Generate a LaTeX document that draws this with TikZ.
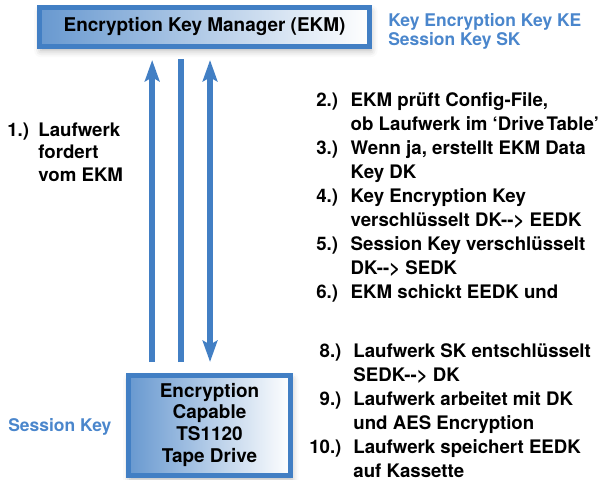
\documentclass[tikz,border=0pt]{standalone}
\usepackage{fontspec}
\setmainfont{TeX Gyre Heros}
\usetikzlibrary{arrows.meta,shadows.blur}
\definecolor{ekmblue}{RGB}{66,127,196}
\definecolor{keyblue}{RGB}{74,134,204}
\begin{document}
\begin{tikzpicture}[x=0.75pt, y=-0.75pt,
  every node/.style={inner sep=0pt, font=\bfseries},
  box/.style={draw=ekmblue, line width=3.75pt, left color=ekmblue!80, middle color=ekmblue!18, right color=white,
    blur shadow={shadow xshift=1pt, shadow yshift=-3pt, shadow blur radius=5pt, shadow opacity=30}},
  bluetext/.style={text=keyblue, font=\fontsize{13.1}{14.25}\selectfont\bfseries},
  steptext/.style={font=\fontsize{14}{18}\selectfont\bfseries},
  flow/.style={draw=ekmblue, line width=4.5pt},
  >={Stealth[length=16pt, width=11pt, inset=3pt]}]
\useasboundingbox (0,0) rectangle (602,479);

% boxes
\node[box, minimum width=247.5pt, minimum height=29.25pt, font=\fontsize{14.2}{17}\selectfont\bfseries] (ekm) at (204.5,27) {Encryption Key Manager (EKM)};
\node[box, minimum width=121.5pt, minimum height=75pt, font=\fontsize{14.2}{16.3}\selectfont\bfseries] (drive) at (209.5,425.5)
  {\begin{tabular}{@{}c@{}}Encryption\\Capable\\TS1120\\Tape Drive\end{tabular}};

% keys
\node[bluetext, anchor=base west] (keys) at (388,26)
  {\begin{tabular}[t]{@{}l@{}}Key Encryption Key KE\\Session Key SK\end{tabular}};
\node[bluetext, anchor=west] (session) at (8,427) {Session Key};

% steps
\node[font=\fontsize{14}{16.9}\selectfont\bfseries, anchor=base west] (ask) at (7,136)
  {\begin{tabular}[t]{@{}l@{\hspace{7pt}}l@{}}1.) & Laufwerk\\ & fordert\\ & vom EKM\end{tabular}};
\node[steptext, anchor=base west] (ekmsteps) at (316,106.5)
  {\begin{tabular}[t]{@{}r@{\hspace{9.5pt}}l@{}}
  2.) & EKM prüft Config-File,\\
      & ob Laufwerk im ‘Drive\hspace{0.12em}Table’\\
  3.) & Wenn ja, erstellt EKM Data\\
      & Key DK\\
  4.) & Key Encryption Key\\
      & verschlüsselt DK-{}-{}> EEDK\\
  5.) & Session Key verschlüsselt\\
      & DK-{}-{}> SEDK\\
  6.) & EKM schickt EEDK und
  \end{tabular}};
\node[steptext, anchor=base west] (drivesteps) at (309,357)
  {\begin{tabular}[t]{@{}r@{\hspace{9pt}}l@{}}
  8.) & Laufwerk SK entschlüsselt\\
      & SEDK-{}-{}> DK\\
  9.) & Laufwerk arbeitet mit DK\\
      & und AES Encryption\\
  10.) & Laufwerk speichert EEDK\\
      & auf Kassette
  \end{tabular}};

% connectors
\draw[flow, ->, shorten <=8.25pt, shorten >=8.25pt] ([xshift=-43pt]drive.north) -- ([xshift=-43pt]drive.north |- ekm.south);
\draw[flow, shorten <=8.25pt, shorten >=7.5pt] ([xshift=-21.4pt]drive.north) -- ([xshift=-21.4pt]drive.north |- ekm.south);
\draw[flow, <->, shorten <=8.25pt, shorten >=8.25pt] ([xshift=0.4pt]drive.north) -- ([xshift=0.4pt]drive.north |- ekm.south);
\end{tikzpicture}
\end{document}
